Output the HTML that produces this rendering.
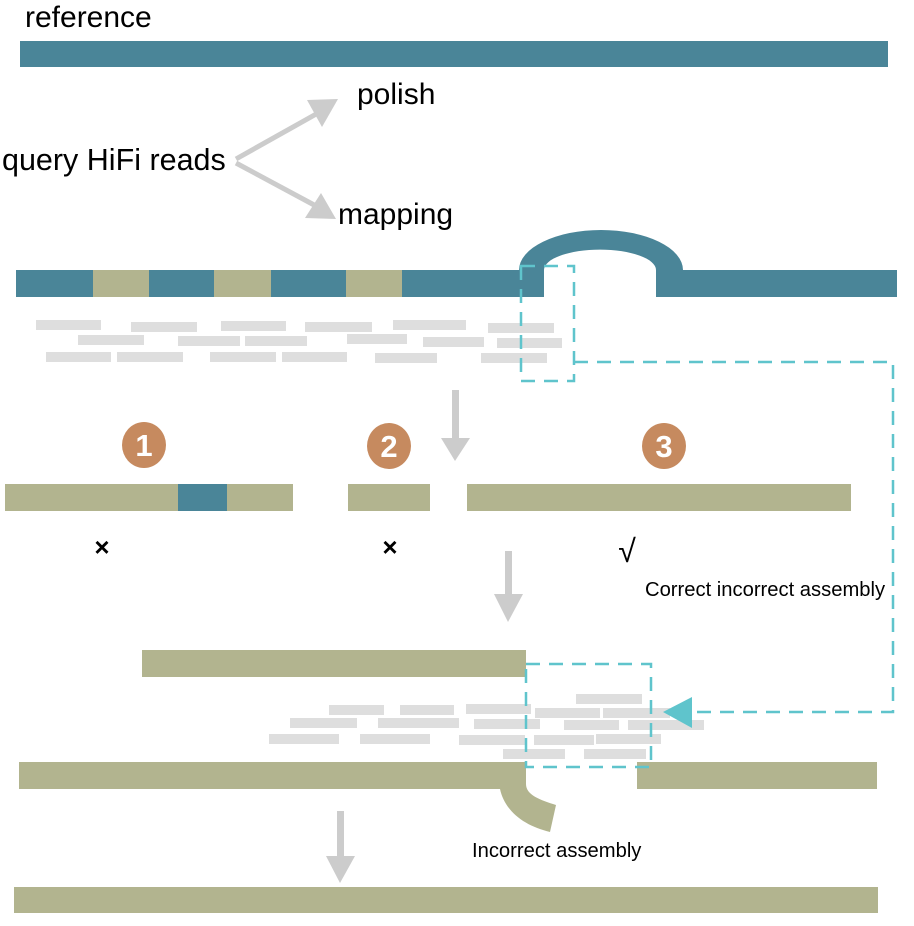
<!DOCTYPE html>
<html><head><style>body{margin:0;background:#fff}svg{display:block}</style></head><body>
<svg width="914" height="926" viewBox="0 0 914 926" xmlns="http://www.w3.org/2000/svg" font-family="Liberation Sans, sans-serif">
<text x="25" y="27" font-size="30">reference</text>
<rect x="20" y="41" width="868" height="26" fill="#4a8598"/>
<text x="357" y="104" font-size="30">polish</text>
<text x="2" y="170" font-size="30.5">query HiFi reads</text>
<text x="338" y="224" font-size="30">mapping</text>
<g stroke="#cccccc" stroke-width="5" fill="none"><path d="M236,159 L318,113"/><path d="M236,163 L316,206"/></g>
<polygon points="338,99 307,100 322,127" fill="#cccccc"/>
<polygon points="336,219 321,193 305,218" fill="#cccccc"/>
<rect x="16" y="270" width="528" height="27" fill="#4a8598"/>
<rect x="93" y="270" width="56" height="27" fill="#b2b48f"/>
<rect x="214" y="270" width="57" height="27" fill="#b2b48f"/>
<rect x="346" y="270" width="56" height="27" fill="#b2b48f"/>
<rect x="656" y="270" width="241" height="27" fill="#4a8598"/>
<path d="M519,270 A82,40 0 0 1 683,270 L656,270 A55,20 0 0 0 544,270 Z" fill="#4a8598"/>
<g fill="#dedede">
<rect x="36" y="320" width="65" height="10"/><rect x="131" y="322" width="66" height="10"/><rect x="221" y="321" width="65" height="10"/><rect x="305" y="322" width="67" height="10"/><rect x="393" y="320" width="73" height="10"/><rect x="488" y="323" width="66" height="10"/>
<rect x="78" y="335" width="66" height="10"/><rect x="178" y="336" width="62" height="10"/><rect x="245" y="336" width="62" height="10"/><rect x="347" y="334" width="60" height="10"/><rect x="423" y="337" width="61" height="10"/><rect x="497" y="338" width="65" height="10"/>
<rect x="46" y="352" width="65" height="10"/><rect x="117" y="352" width="66" height="10"/><rect x="210" y="352" width="66" height="10"/><rect x="282" y="352" width="65" height="10"/><rect x="375" y="353" width="62" height="10"/><rect x="481" y="353" width="66" height="10"/>
</g>
<rect x="452" y="390" width="7" height="50" fill="#cccccc"/>
<polygon points="441,438 470,438 455,461" fill="#cccccc"/>
<g fill="#c68a5f"><ellipse cx="144" cy="445" rx="22" ry="23"/><ellipse cx="389" cy="446" rx="22" ry="23"/><ellipse cx="664" cy="446" rx="22" ry="23"/></g>
<g fill="#fff" font-size="31" font-weight="bold" text-anchor="middle"><text x="144" y="456">1</text><text x="389" y="457">2</text><text x="664" y="457">3</text></g>
<rect x="5" y="484" width="288" height="27" fill="#b2b48f"/>
<rect x="178" y="484" width="49" height="27" fill="#4a8598"/>
<rect x="348" y="484" width="82" height="27" fill="#b2b48f"/>
<rect x="467" y="484" width="384" height="27" fill="#b2b48f"/>
<g font-size="26" font-weight="bold" text-anchor="middle"><text x="102" y="556">×</text><text x="390" y="556">×</text></g>
<text x="627" y="562" font-size="32" text-anchor="middle">√</text>
<rect x="505" y="551" width="7" height="46" fill="#cccccc"/>
<polygon points="494,594 523,594 508,622" fill="#cccccc"/>
<text x="645" y="596" font-size="20.2">Correct incorrect assembly</text>
<rect x="142" y="650" width="384" height="27" fill="#b2b48f"/>
<g fill="#dedede">
<rect x="576" y="694" width="66" height="10"/>
<rect x="329" y="705" width="55" height="10"/><rect x="400" y="705" width="54" height="10"/><rect x="466" y="704" width="65" height="10"/><rect x="535" y="708" width="65" height="10"/><rect x="603" y="708" width="67" height="10"/>
<rect x="290" y="718" width="67" height="10"/><rect x="378" y="718" width="81" height="10"/><rect x="474" y="719" width="66" height="10"/><rect x="564" y="720" width="55" height="10"/><rect x="628" y="720" width="76" height="10"/>
<rect x="269" y="734" width="70" height="10"/><rect x="360" y="734" width="70" height="10"/><rect x="459" y="735" width="66" height="10"/><rect x="534" y="735" width="60" height="10"/><rect x="596" y="734" width="65" height="10"/>
<rect x="503" y="749" width="62" height="10"/><rect x="584" y="749" width="62" height="10"/>
</g>
<rect x="19" y="762" width="507" height="27" fill="#b2b48f"/>
<rect x="637" y="762" width="240" height="27" fill="#b2b48f"/>
<path d="M500,789 C505,812 525,826 550,832 L556,805 C540,800 526,795 526,784 Z" fill="#b2b48f"/>
<g fill="none" stroke="#5fc4cc" stroke-width="2.5" stroke-dasharray="14,9">
<rect x="521" y="266" width="53" height="115"/>
<path d="M574,362 L893,362 L893,712 L690,712"/>
<rect x="526" y="664" width="125" height="103"/>
</g>
<polygon points="663,712 692,697 692,728" fill="#5fc4cc"/>
<text x="472" y="857" font-size="20.2">Incorrect assembly</text>
<rect x="337" y="811" width="7" height="48" fill="#cccccc"/>
<polygon points="326,856 355,856 340,883" fill="#cccccc"/>
<rect x="14" y="887" width="864" height="26" fill="#b2b48f"/>
</svg>
</body></html>
